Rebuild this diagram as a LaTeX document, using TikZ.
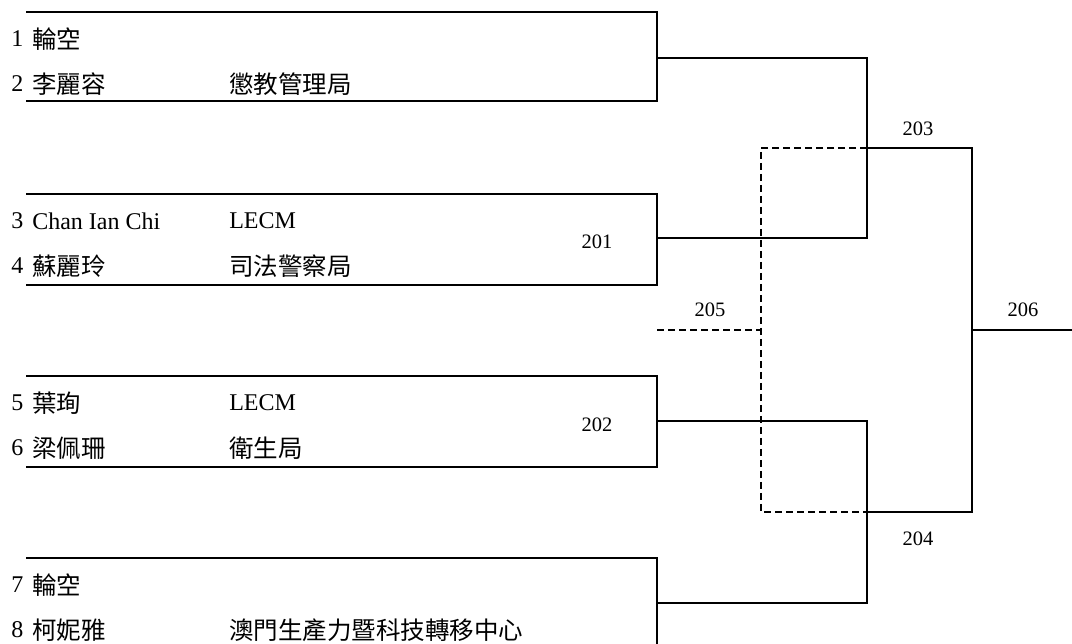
\documentclass[tikz,border=0pt]{standalone}
\usepackage{fontspec}
\setmainfont{Liberation Serif}
\newfontfamily\cjk{Noto Sans CJK TC}
\begin{document}
\begin{tikzpicture}[x=1pt,y=-1pt,line width=2.6pt,
  entry/.style={anchor=west,inner sep=0pt,font=\fontsize{24}{26}\selectfont},
  cj/.style={entry,font=\fontsize{24.5}{26}\selectfont\cjk},
  lbl/.style={inner sep=0pt,font=\fontsize{20.5}{22}\selectfont},
  dashline/.style={dash pattern=on 7pt off 4pt},
  box/.style={line width=2.6pt}]
\useasboundingbox (0,0) rectangle (1072,644);
% boxes (open on the left)
\foreach \n/\t/\b in {1/12/101,2/194/285,3/376/467}{
  \coordinate (tl\n) at (26,\t);
  \coordinate (tr\n) at (657,\t);
  \coordinate (br\n) at (657,\b);
  \coordinate (bl\n) at (26,\b);
  \draw[box] (tl\n) -- (tr\n) -- (br\n) -- (bl\n);
}
\coordinate (tl4) at (26,558);
\coordinate (tr4) at (657,558);
\coordinate (br4) at (657,644);
\draw[box] (tl4) -- (tr4) -- (br4);
% entries
\node[entry] (n1) at (10,39) {1};
\node[cj] (m1) at (31,39) {輪空};
\node[entry] (n2) at (10,84) {2};
\node[cj] (m2) at (31,84) {李麗容};
\node[cj] (o2) at (228,84) {懲教管理局};
\node[entry] (n3) at (10,221) {3};
\node[entry] (m3) at (31,221) {Chan Ian Chi};
\node[entry] (o3) at (228,221) {LECM};
\node[entry] (n4) at (10,266) {4};
\node[cj] (m4) at (31,266) {蘇麗玲};
\node[cj] (o4) at (228,266) {司法警察局};
\node[entry] (n5) at (10,403) {5};
\node[cj] (m5) at (31,403) {葉珣};
\node[entry] (o5) at (228,403) {LECM};
\node[entry] (n6) at (10,448) {6};
\node[cj] (m6) at (31,448) {梁佩珊};
\node[cj] (o6) at (228,448) {衛生局};
\node[entry] (n7) at (10,585) {7};
\node[cj] (m7) at (31,585) {輪空};
\node[entry] (n8) at (10,630) {8};
\node[cj] (m8) at (31,630) {柯妮雅};
\node[cj] (o8) at (228,630) {澳門生產力暨科技轉移中心};
% match labels
\node[lbl] (l201) at (597,242) {201};
\node[lbl] (l202) at (597,425) {202};
\node[lbl] (l203) at (918,129) {203};
\node[lbl] (l204) at (918,539) {204};
\node[lbl] (l205) at (710,310) {205};
\node[lbl] (l206) at (1023,310) {206};
% connection points
\coordinate (c1) at (657,58);
\coordinate (c2) at (657,238);
\coordinate (c3) at (657,421);
\coordinate (c4) at (657,603);
\coordinate (j203) at (867,148);
\coordinate (j204) at (867,512);
\coordinate (e203) at (972,148);
\coordinate (e204) at (972,512);
\coordinate (j206) at (972,330);
\coordinate (e206) at (1072,330);
\coordinate (s205) at (657,330);
\coordinate (j205) at (761,330);
\coordinate (d203) at (761,148);
\coordinate (d204) at (761,512);
% solid bracket
\draw (c1) -| (j203) |- (c2);
\draw (j203) -- (e203) -- (e204) -- (j204);
\draw (c3) -| (j204) |- (c4);
\draw (j206) -- (e206);
% dashed (loser bracket)
\draw[dashline] (s205) -- (j205);
\draw[dashline] (j203) -- (d203) -- (d204) -- (j204);
\end{tikzpicture}
\end{document}
